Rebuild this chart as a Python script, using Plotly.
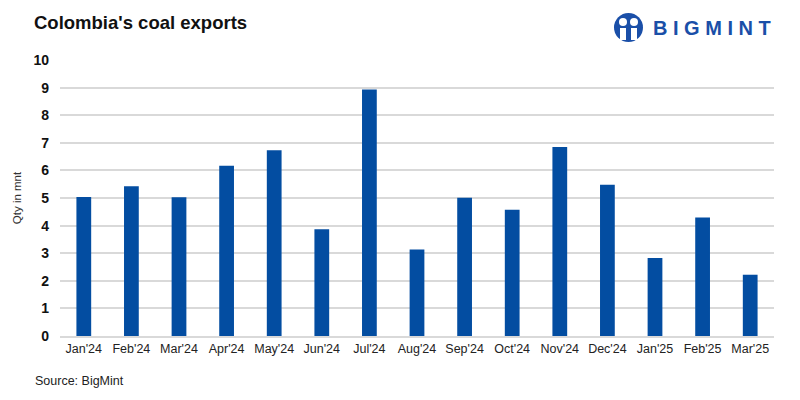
import plotly.graph_objects as go

months = ["Jan'24", "Feb'24", "Mar'24", "Apr'24", "May'24", "Jun'24", "Jul'24", "Aug'24",
          "Sep'24", "Oct'24", "Nov'24", "Dec'24", "Jan'25", "Feb'25", "Mar'25"]
exports = [5.04, 5.43, 5.03, 6.17, 6.73, 3.87, 8.93, 3.13, 5.01, 4.57, 6.85, 5.48, 2.83, 4.29, 2.22]
y_ticks = list(range(0, 11))

BLUE = "#034da1"
LOGO = "#1a4fa8"

fig = go.Figure()
fig.add_trace(go.Bar(x=months, y=exports, marker=dict(color=BLUE, line=dict(width=0)),
                     hoverinfo="x+y"))

fig.update_layout(
    width=800, height=400,
    margin=dict(l=60, r=26, t=60, b=64, autoexpand=False),
    paper_bgcolor="white", plot_bgcolor="white",
    bargap=0.69,
    showlegend=False,
    font=dict(family="Liberation Sans, Arial, sans-serif", color="#222"),
    xaxis=dict(showgrid=False, showline=True, linecolor="#d9d9d9", linewidth=1.5,
               ticks="", tickfont=dict(size=12.5, color="#222"), fixedrange=True,
               automargin=False),
    yaxis=dict(range=[0, 10], tickvals=y_ticks, showgrid=True, gridcolor="#d9d9d9",
               gridwidth=1.5, zeroline=False, ticks="", ticklabelstandoff=10,
               tickfont=dict(size=14, color="#111", family="Liberation Sans, Arial, sans-serif", weight="bold"),
               title=dict(text="Qty in mnt", font=dict(size=11.5, color="#333"), standoff=9),
               fixedrange=True, automargin=False),
)

def py(ypx):
    return 1 + (60 - ypx) / 276

def px(xpx):
    return (xpx - 60) / 714

fig.add_annotation(text="<b>Colombia's coal exports</b>", xref="paper", yref="paper",
                   x=px(32), y=py(22), xanchor="left", yanchor="middle",
                   showarrow=False, font=dict(size=18.5, color="#111"))
fig.add_annotation(text="Source: BigMint", xref="paper", yref="paper",
                   x=px(33), y=py(381), xanchor="left", yanchor="middle",
                   showarrow=False, font=dict(size=12.5, color="#222"))
# Logo
fig.add_annotation(text="<b>B I G M I N T</b>", xref="paper", yref="paper",
                   x=px(651), y=py(28), xanchor="left", yanchor="middle",
                   showarrow=False, font=dict(size=20, color=LOGO, family="Liberation Sans, Arial, sans-serif"))
fig.add_shape(type="circle", xref="paper", yref="paper",
              x0=px(614), x1=px(643), y0=py(42), y1=py(13),
              fillcolor=LOGO, line=dict(width=0))
for a, b in [(619, 627), (630, 638)]:
    fig.add_shape(type="circle", xref="paper", yref="paper",
                  x0=px(a), x1=px(b), y0=py(26), y1=py(18),
                  fillcolor="white", line=dict(width=0))
for a, b in [(620, 626), (631, 637)]:
    fig.add_shape(type="rect", xref="paper", yref="paper",
                  x0=px(a), x1=px(b), y0=py(40), y1=py(28),
                  fillcolor="white", line=dict(width=0))

fig.write_html("out.html", config={"displayModeBar": False},
               post_script="document.body.style.margin='0';")
